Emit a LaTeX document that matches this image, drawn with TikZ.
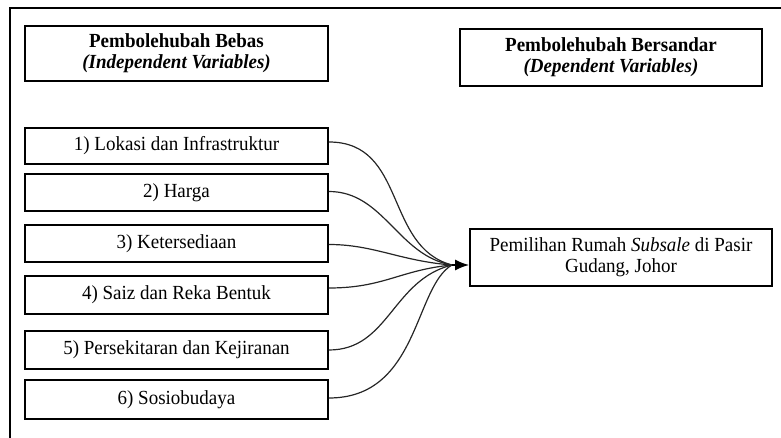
\documentclass[tikz,border=0pt]{standalone}
\usepackage{fontspec}
\setmainfont{Liberation Serif}[FakeStretch=0.95]
\usetikzlibrary{arrows.meta}
\begin{document}
\begin{tikzpicture}[x=1pt,y=-1pt,
  box/.style={draw, line width=1.8pt, minimum width=303pt, inner sep=0pt, align=center,
    font=\fontsize{20}{21}\selectfont},
  link/.style={line width=1.2pt, draw=black!85},
  frame/.style={line width=1.4pt, draw=black}]
\useasboundingbox (0,0) rectangle (781,438);
\draw[frame] (10,460) -- (10,8) -- (800,8);

\node[box, minimum height=55pt] (hL) at (176.5,53.5)
  {\bfseries Pembolehubah Bebas\\ \bfseries\itshape (Independent Variables)};
\node[box, minimum height=57pt, minimum width=302pt] (hR) at (611,57.5)
  {\bfseries Pembolehubah Bersandar\\ \bfseries\itshape (Dependent Variables)};

\node[box, minimum height=36pt] (b1) at (176.5,146) {1) Lokasi dan Infrastruktur};
\node[box, minimum height=37pt] (b2) at (176.5,192.5) {2) Harga};
\node[box, minimum height=37pt] (b3) at (176.5,243.5) {3) Ketersediaan};
\node[box, minimum height=38pt] (b4) at (176.5,295) {4) Saiz dan Reka Bentuk};
\node[box, minimum height=38pt] (b5) at (176.5,350) {5) Persekitaran dan Kejiranan};
\node[box, minimum height=39pt] (b6) at (176.5,399.5) {6) Sosiobudaya};

\node[box, minimum height=57pt, minimum width=302pt] (tg) at (621,257.5)
  {Pemilihan Rumah \textit{Subsale} di Pasir\\ Gudang, Johor};

\coordinate (j) at (452,265);

\draw[link] ([yshift=4pt]b1.east) .. controls +(78,0) and +(-68,-18) .. (j);
\draw[link] ([yshift=1pt]b2.east) .. controls +(55,0) and +(-54,-9) .. (j);
\draw[link] ([yshift=-1pt]b3.east) .. controls +(45,0) and +(-52,-4) .. (j);
\draw[link] ([yshift=7pt]b4.east) .. controls +(55,0) and +(-52,5) .. (j);
\draw[link] (b5.east) .. controls +(60,0) and +(-60,15) .. (j);
\draw[link] ([yshift=1.5pt]b6.east) .. controls +(90,0) and +(-38,22) .. (j);

\draw[line width=1.6pt, -{Latex[length=14pt,width=11pt]}] (j) -- (j -| tg.west);
\end{tikzpicture}
\end{document}
